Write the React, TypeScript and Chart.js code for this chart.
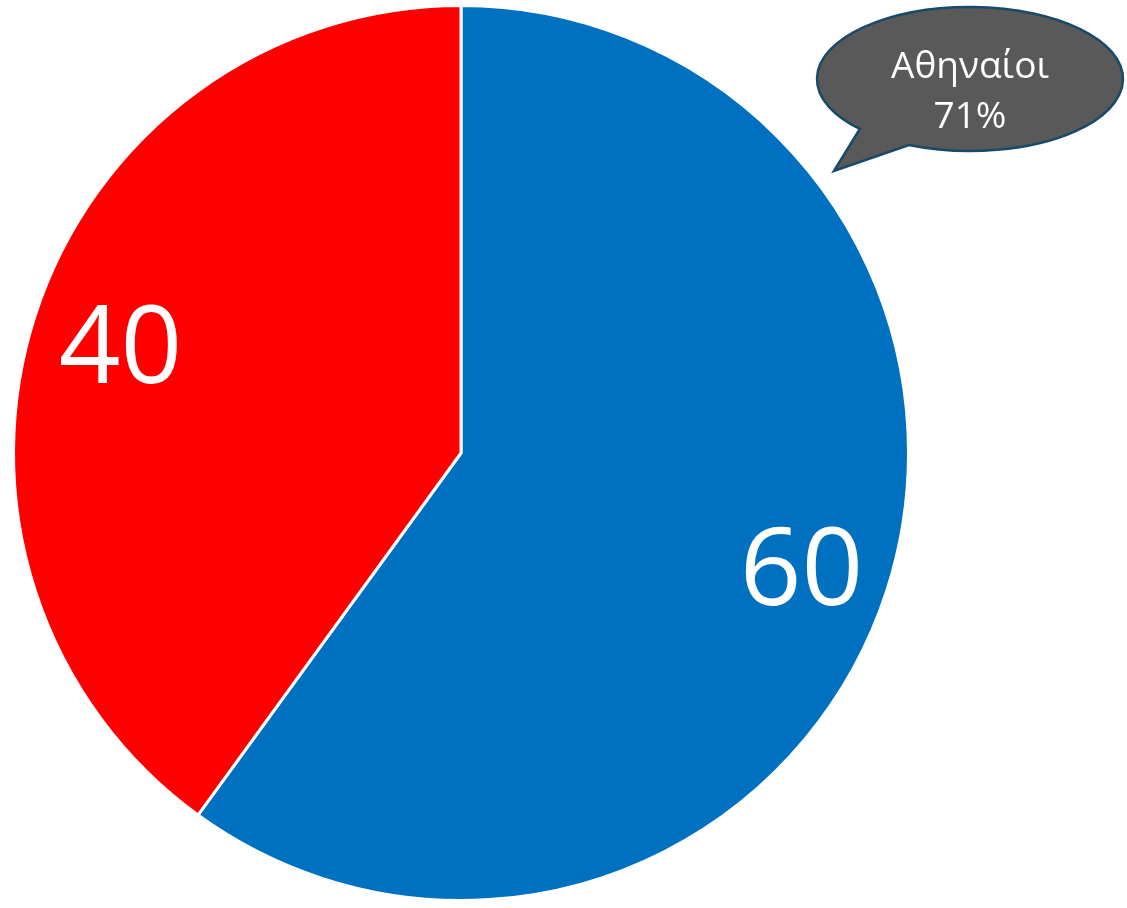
import React, { useEffect, useRef } from "react";
import { Chart, registerables } from "chart.js";

Chart.register(...registerables);

const categories = ["Κατηγορία 1", "Κατηγορία 2"];
const values = [60, 40];
const colors = ["#0070C0", "#FF0000"];
const calloutLines = ["Αθηναίοι", "71%"];

const labelPlugin = {
  id: "sliceLabels",
  afterDatasetsDraw(chart: any) {
    const ctx = chart.ctx;
    const meta = chart.getDatasetMeta(0);
    ctx.save();
    ctx.fillStyle = "#FFFFFF";
    ctx.font = "108px 'Open Sans', 'Liberation Sans', Arial, sans-serif";
    ctx.textAlign = "center";
    ctx.textBaseline = "alphabetic";
    meta.data.forEach((arc: any, i: number) => {
      const { x, y, startAngle, endAngle, outerRadius } = arc.getProps(
        ["x", "y", "startAngle", "endAngle", "outerRadius"],
        true
      );
      const mid = (startAngle + endAngle) / 2;
      const r = outerRadius * 0.8;
      ctx.fillText(String(values[i]), x + Math.cos(mid) * r, y + Math.sin(mid) * r + 41);
    });
    ctx.restore();
  },
};

const calloutPlugin = {
  id: "callout",
  afterDraw(chart: any) {
    const ctx = chart.ctx;
    const cx = 970, cy = 79, rx = 153, ry = 72;
    ctx.save();
    ctx.beginPath();
    const a1 = Math.atan2((128 - cy) / ry, (862 - cx) / rx);
    const a2 = Math.atan2((146 - cy) / ry, (908 - cx) / rx);
    ctx.ellipse(cx, cy, rx, ry, 0, a1, a2 + Math.PI * 2, false);
    ctx.lineTo(834, 171);
    ctx.closePath();
    ctx.fillStyle = "#595959";
    ctx.fill();
    ctx.lineWidth = 2.5;
    ctx.strokeStyle = "#164A68";
    ctx.stroke();
    ctx.fillStyle = "#FFFFFF";
    ctx.font = "37px 'Open Sans', 'Liberation Sans', Arial, sans-serif";
    ctx.textAlign = "center";
    ctx.textBaseline = "alphabetic";
    ctx.fillText(calloutLines[0], cx, 78);
    ctx.fillText(calloutLines[1], cx, 128);
    ctx.restore();
  },
};

export default function App() {
  const ref = useRef<HTMLCanvasElement>(null);
  useEffect(() => {
    if (!ref.current) return;
    const chart = new Chart(ref.current, {
      type: "pie",
      data: {
        labels: categories,
        datasets: [
          {
            data: values,
            backgroundColor: colors,
            borderColor: "#FFFFFF",
            borderWidth: 3,
          },
        ],
      },
      options: {
        responsive: false,
        animation: false,
        layout: { padding: { left: 12, top: 4, right: 217, bottom: 6 } },
        plugins: {
          legend: { display: false },
          tooltip: { enabled: false },
        },
      },
      plugins: [labelPlugin, calloutPlugin],
    });
    return () => chart.destroy();
  }, []);
  return (
    <div style={{ position: "absolute", left: 0, top: 0, width: 1127, height: 908, background: "#FFFFFF" }}>
      <canvas ref={ref} width={1127} height={908} />
    </div>
  );
}
